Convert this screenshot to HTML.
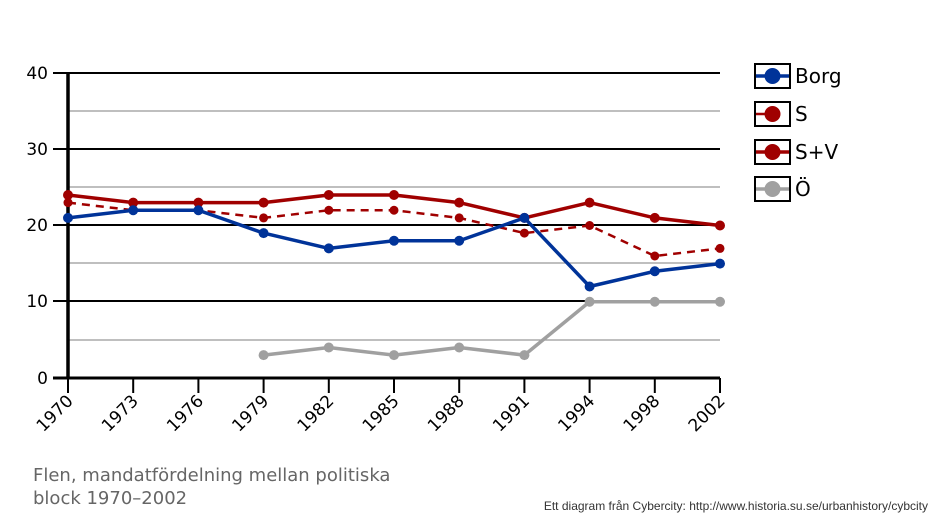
<!DOCTYPE html>
<html><head><meta charset="utf-8"><style>body{margin:0;background:#fff}svg{display:block}</style></head><body>
<svg width="938" height="521" xmlns="http://www.w3.org/2000/svg" font-family="DejaVu Sans, sans-serif">
<g stroke="#999" stroke-width="1.2">
<line x1="68" y1="111" x2="720" y2="111"/><line x1="68" y1="187" x2="720" y2="187"/><line x1="68" y1="263" x2="720" y2="263"/><line x1="68" y1="340" x2="720" y2="340"/>
</g>
<g stroke="#000" stroke-width="2">
<line x1="53" y1="73" x2="720" y2="73"/><line x1="53" y1="149" x2="720" y2="149"/><line x1="53" y1="225" x2="720" y2="225"/><line x1="53" y1="301" x2="720" y2="301"/>
<line x1="53" y1="378" x2="720" y2="378" stroke-width="3"/>
<line x1="68" y1="73" x2="68" y2="378" stroke-width="3.5"/>
<g stroke-width="2"><line x1="68" y1="378" x2="68" y2="393"/><line x1="133.2" y1="378" x2="133.2" y2="393"/><line x1="198.4" y1="378" x2="198.4" y2="393"/><line x1="263.6" y1="378" x2="263.6" y2="393"/><line x1="328.8" y1="378" x2="328.8" y2="393"/><line x1="394" y1="378" x2="394" y2="393"/><line x1="459.2" y1="378" x2="459.2" y2="393"/><line x1="524.4" y1="378" x2="524.4" y2="393"/><line x1="589.6" y1="378" x2="589.6" y2="393"/><line x1="654.8" y1="378" x2="654.8" y2="393"/><line x1="720" y1="378" x2="720" y2="393"/></g>
</g>
<g font-size="17" text-anchor="end" fill="#000">
<text x="48" y="79">40</text><text x="48" y="155">30</text><text x="48" y="231">20</text><text x="48" y="307">10</text><text x="48" y="384">0</text>
</g>
<g font-size="17" text-anchor="end" fill="#000">
<text transform="translate(74,402) rotate(-45)">1970</text>
<text transform="translate(139.2,402) rotate(-45)">1973</text>
<text transform="translate(204.4,402) rotate(-45)">1976</text>
<text transform="translate(269.6,402) rotate(-45)">1979</text>
<text transform="translate(334.8,402) rotate(-45)">1982</text>
<text transform="translate(400,402) rotate(-45)">1985</text>
<text transform="translate(465.2,402) rotate(-45)">1988</text>
<text transform="translate(530.4,402) rotate(-45)">1991</text>
<text transform="translate(595.6,402) rotate(-45)">1994</text>
<text transform="translate(660.8,402) rotate(-45)">1998</text>
<text transform="translate(726,402) rotate(-45)">2002</text>
</g>
<g fill="none" stroke-width="3.5" stroke-linejoin="round">
<polyline stroke="#a0a0a0" points="263.6,355.1 328.8,347.5 394,355.1 459.2,347.5 524.4,355.1 589.6,301.75 654.8,301.75 720,301.75"/>
<polyline stroke="#a00000" stroke-width="2.5" stroke-dasharray="8,6" points="68,202.6 133.2,210.25 198.4,210.25 263.6,217.9 328.8,210.25 394,210.25 459.2,217.9 524.4,233.1 589.6,225.5 654.8,256 720,248.4"/>
<polyline stroke="#a00000" points="68,195 133.2,202.6 198.4,202.6 263.6,202.6 328.8,195 394,195 459.2,202.6 524.4,217.9 589.6,202.6 654.8,217.9 720,225.5"/>
<polyline stroke="#003399" points="68,217.9 133.2,210.25 198.4,210.25 263.6,233.1 328.8,248.4 394,240.75 459.2,240.75 524.4,217.9 589.6,286.5 654.8,271.25 720,263.6"/>
</g>
<g fill="#a0a0a0"><circle cx="263.6" cy="355.1" r="5"/><circle cx="328.8" cy="347.5" r="5"/><circle cx="394" cy="355.1" r="5"/><circle cx="459.2" cy="347.5" r="5"/><circle cx="524.4" cy="355.1" r="5"/><circle cx="589.6" cy="301.75" r="5"/><circle cx="654.8" cy="301.75" r="5"/><circle cx="720" cy="301.75" r="5"/></g>
<g fill="#a00000"><circle cx="68" cy="202.6" r="4.5"/><circle cx="133.2" cy="210.25" r="4.5"/><circle cx="198.4" cy="210.25" r="4.5"/><circle cx="263.6" cy="217.9" r="4.5"/><circle cx="328.8" cy="210.25" r="4.5"/><circle cx="394" cy="210.25" r="4.5"/><circle cx="459.2" cy="217.9" r="4.5"/><circle cx="524.4" cy="233.1" r="4.5"/><circle cx="589.6" cy="225.5" r="4.5"/><circle cx="654.8" cy="256" r="4.5"/><circle cx="720" cy="248.4" r="4.5"/></g>
<g fill="#a00000"><circle cx="68" cy="195" r="5"/><circle cx="133.2" cy="202.6" r="5"/><circle cx="198.4" cy="202.6" r="5"/><circle cx="263.6" cy="202.6" r="5"/><circle cx="328.8" cy="195" r="5"/><circle cx="394" cy="195" r="5"/><circle cx="459.2" cy="202.6" r="5"/><circle cx="524.4" cy="217.9" r="5"/><circle cx="589.6" cy="202.6" r="5"/><circle cx="654.8" cy="217.9" r="5"/><circle cx="720" cy="225.5" r="5"/></g>
<g fill="#003399"><circle cx="68" cy="217.9" r="5"/><circle cx="133.2" cy="210.25" r="5"/><circle cx="198.4" cy="210.25" r="5"/><circle cx="263.6" cy="233.1" r="5"/><circle cx="328.8" cy="248.4" r="5"/><circle cx="394" cy="240.75" r="5"/><circle cx="459.2" cy="240.75" r="5"/><circle cx="524.4" cy="217.9" r="5"/><circle cx="589.6" cy="286.5" r="5"/><circle cx="654.8" cy="271.25" r="5"/><circle cx="720" cy="263.6" r="5"/></g>
<g>
<rect x="755" y="64" width="35" height="24" fill="#fff" stroke="#000" stroke-width="2"/><line x1="756" y1="76" x2="789" y2="76" stroke="#003399" stroke-width="3.5"/><circle cx="772.5" cy="76" r="8" fill="#003399"/>
<rect x="755" y="102" width="35" height="24" fill="#fff" stroke="#000" stroke-width="2"/><line x1="756" y1="114" x2="772" y2="114" stroke="#a00000" stroke-width="2.5"/><circle cx="772.5" cy="114" r="8" fill="#a00000"/>
<rect x="755" y="140" width="35" height="24" fill="#fff" stroke="#000" stroke-width="2"/><line x1="756" y1="152" x2="789" y2="152" stroke="#a00000" stroke-width="3.5"/><circle cx="772.5" cy="152" r="8" fill="#a00000"/>
<rect x="755" y="177" width="35" height="24" fill="#fff" stroke="#000" stroke-width="2"/><line x1="756" y1="189" x2="789" y2="189" stroke="#a0a0a0" stroke-width="3.5"/><circle cx="772.5" cy="189" r="8" fill="#a0a0a0"/>
</g>
<g font-size="20" fill="#000"><text x="795" y="83">Borg</text><text x="795" y="121">S</text><text x="795" y="159">S+V</text><text x="795" y="196">Ö</text></g>
<g font-size="18" fill="#666"><text x="33" y="481">Flen, mandatfördelning mellan politiska</text><text x="33" y="504">block 1970–2002</text></g>
<text x="928" y="510" font-size="12" fill="#333" text-anchor="end" font-family="Liberation Sans, sans-serif">Ett diagram från Cybercity: http://www.historia.su.se/urbanhistory/cybcity</text>
</svg>
</body></html>
